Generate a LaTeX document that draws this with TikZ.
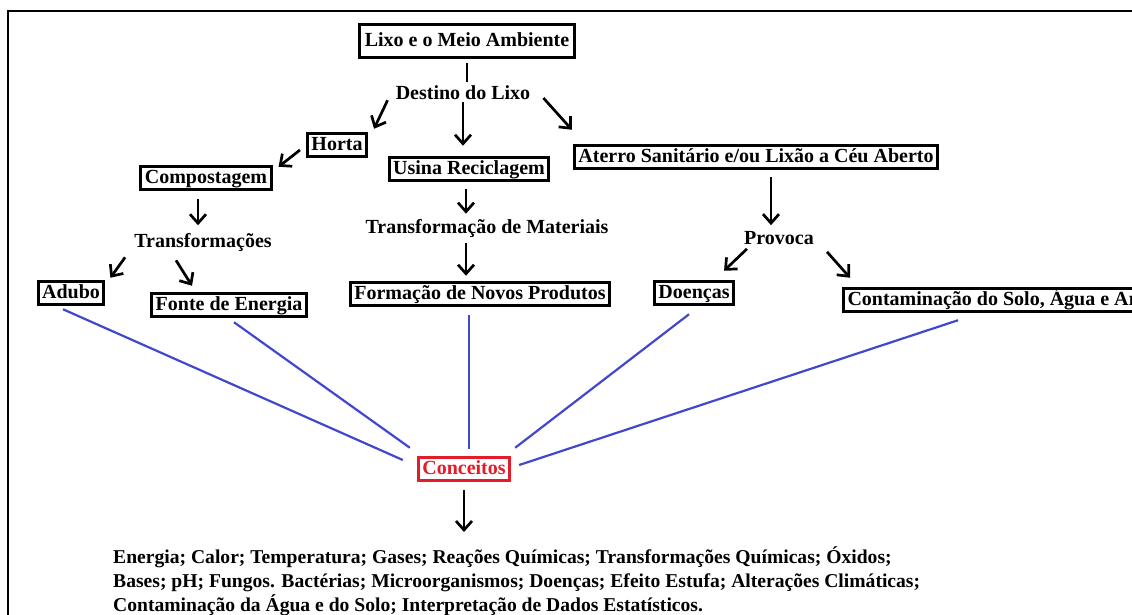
\documentclass[tikz,border=0pt]{standalone}
\usepackage{fontspec}
\setmainfont{Liberation Serif}
\usetikzlibrary{arrows.meta,calc}
\definecolor{linkblue}{RGB}{66,72,205}
\definecolor{conred}{RGB}{228,28,40}
\tikzset{
  box/.style={draw=black,line width=3pt,inner xsep=4pt,inner ysep=3pt,text height=14.5pt,text depth=3pt,font=\fontsize{20}{24}\selectfont\bfseries},
  lbl/.style={inner sep=2pt,font=\fontsize{20}{24}\selectfont\bfseries},
  arr/.style={line width=2.7pt,-{Straight Barb[length=9pt,width=16pt,line width=2.7pt]}},
  link/.style={draw=linkblue,line width=2.2pt},
  conbox/.style={draw=conred,line width=3pt,text=conred,inner xsep=4pt,inner ysep=3pt,text height=14.5pt,text depth=3pt,font=\fontsize{20}{24}\selectfont\bfseries},
}
\begin{document}
\begin{tikzpicture}[x=1pt,y=-1pt]
\useasboundingbox (0,0) rectangle (1132,614);
\clip (0,0) rectangle (1132,614);
\fill[white] (0,0) rectangle (1132,614);
\draw[line width=2pt] (8,11) rectangle (1300,700);

\node[box,inner xsep=5pt,inner ysep=7.5pt] (lixo) at (467,41) {Lixo e o Meio Ambiente};
\node[lbl] (dest) at (463,93) {Destino do Lixo};
\node[box] (horta) at (337,145) {Horta};
\node[box] (usina) at (469,169) {Usina Reciclagem};
\node[box] (aterro) at (756,157) {Aterro Sanitário e/ou Lixão a Céu Aberto};
\node[box] (comp) at (206,178) {Compostagem};
\node[lbl] (transf) at (203,243) {Transformações};
\node[box] (adubo) at (71,293) {Adubo};
\node[box] (fonte) at (229,305) {Fonte de Energia};
\node[lbl] (tmat) at (487,229) {Transformação de Materiais};
\node[box] (form) at (480,294) {Formação de Novos Produtos};
\node[lbl] (prov) at (779,238) {Provoca};
\node[box] (doen) at (694,293) {Doenças};
\node[box,anchor=west] (cont) at (842,300) {Contaminação do Solo, Água e Ar};
\node[conbox] (conc) at (464,469) {Conceitos};
\node[anchor=north west,align=left,inner sep=0pt,font=\fontsize{19.6}{24.2}\selectfont\bfseries] (list) at (113,546)
 {Energia; Calor; Temperatura; Gases; Reações Químicas; Transformações Químicas; Óxidos;\\
  Bases; pH; Fungos. Bactérias; Microorganismos; Doenças; Efeito Estufa; Alterações Climáticas;\\
  Contaminação da Água e do Solo; Interpretação de Dados Estatísticos.};

% black connectors
\draw[line width=2.7pt,shorten <=4pt,shorten >=2pt] (lixo.south) -- (lixo.south |- dest.north);
\draw[arr] ($(dest.south west)+(-6,-2)$) -- ($(horta.north east)+(6,-3)$);
\draw[arr] (dest.south) -- ($(dest.south |- usina.north)+(0,-10)$);
\draw[arr] ($(dest.east)+(11,5)$) -- ($(aterro.north west)+(-1,-14)$);
\draw[arr] ($(horta.west)+(-6,5)$) -- ($(comp.north east)+(6,2)$);
\draw[arr] ($(comp.south)+(-8,8)$) -- ($(comp.south)+(-8,34)$);
\draw[arr] ($(transf.south west)+(-7,3)$) -- ($(adubo.north east)+(5,-2)$);
\draw[arr] ($(transf.south)+(-27,6)$) -- ($(fonte.north)+(-37,-6)$);
\draw[arr] ($(usina.south)+(-3,7)$) -- ($(tmat.north)+(-21,-4)$);
\draw[arr] ($(tmat.south)+(-21,3)$) -- ($(form.north)+(-14,-5)$);
\draw[arr] ($(aterro.south)+(15,7)$) -- ($(prov.north)+(-8,-4)$);
\draw[arr] ($(prov.south west)+(5,2)$) -- ($(doen.north east)+(-11,-9)$);
\draw[arr] ($(prov.south east)+(11,5)$) -- ($(cont.north west)+(8,-9)$);
\draw[arr] ($(conc.south)+(0,8)$) -- ($(list.north west)+(351,-14)$);

% blue links
\draw[link] ($(adubo.south)+(-8,3)$) -- ($(conc.west)+(-14,-9)$);
\draw[link] ($(fonte.south)+(5,4)$) -- ($(conc.north west)+(-7,-8)$);
\draw[link] ($(conc.north)+(5,-7)$) -- ($(conc.north |- form.south)+(5,8)$);
\draw[link] ($(doen.south)+(-5,8)$) -- ($(conc.north east)+(4,-8)$);
\draw[link] ($(cont.south west)+(116,7)$) -- ($(conc.east)+(8,-4)$);
\end{tikzpicture}
\end{document}
